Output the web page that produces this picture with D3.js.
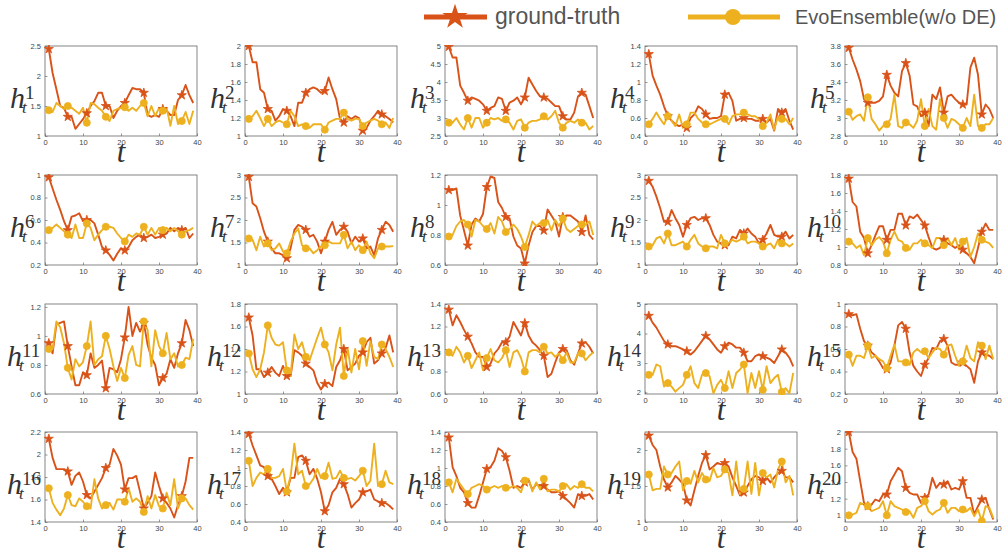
<!DOCTYPE html>
<html><head><meta charset="utf-8">
<script src="https://cdn.jsdelivr.net/npm/d3@7"></script>
<style>body{margin:0;background:#fff}</style>
</head><body>
<svg id="chart" width="1002" height="554"></svg>
<script>
const tSteps = [1,2,3,4,5,6,7,8,9,10,11,12,13,14,15,16,17,18,19,20,21,22,23,24,25,26,27,28,29,30,31,32,33,34,35,36,37,38,39];
const xTicks = [0,10,20,30,40];
const seriesNames = ["ground-truth","EvoEnsemble(w/o DE)"];
const panelIndex = [1,2,3,4,5,6,7,8,9,10,11,12,13,14,15,16,17,18,19,20];
const yDomains = [[1,2.5],[1,2],[2.5,5],[0.4,1.4],[2.8,3.8],[0.2,1],[1,3],[0.6,1.2],[1,3],[0.8,1.8],
  [0.6,1.22],[1,1.8],[0.6,1.4],[1.95,5],[0.2,1],[1.4,2.2],[0.4,1.4],[0.4,1.4],[1,2.25],[0.92,2]];
const yTicks = [[1,1.5,2,2.5],[1,1.2,1.4,1.6,1.8,2],[2.5,3,3.5,4,4.5,5],[0.4,0.6,0.8,1,1.2,1.4],[2.8,3,3.2,3.4,3.6,3.8],
  [0.2,0.4,0.6,0.8,1],[1,1.5,2,2.5,3],[0.6,0.8,1,1.2],[1,1.5,2,2.5,3],[0.8,1,1.2,1.4,1.6,1.8],
  [0.6,0.8,1,1.2],[1,1.2,1.4,1.6,1.8],[0.6,0.8,1,1.2,1.4],[2,3,4,5],[0.2,0.4,0.6,0.8,1],
  [1.4,1.6,1.8,2,2.2],[0.4,0.6,0.8,1,1.2,1.4],[0.4,0.6,0.8,1,1.2,1.4],[1,1.5,2],[1,1.2,1.4,1.6,1.8,2]];

const groundTruth = [
 [2.45,2.05,1.78,1.5,1.47,1.32,1.32,1.12,1.2,1.28,1.38,1.5,1.58,1.72,1.72,1.5,1.5,1.3,1.42,1.5,1.55,1.68,1.8,1.78,1.78,1.72,1.35,1.32,1.35,1.32,1.45,1.42,1.35,1.35,1.6,1.68,1.85,1.68,1.55],
 [2.0,1.82,1.82,1.52,1.48,1.3,1.28,1.17,1.22,1.3,1.28,1.22,1.11,1.37,1.37,1.48,1.52,1.54,1.52,1.48,1.5,1.65,1.52,1.41,1.19,1.15,1.22,1.19,1.22,1.2,1.06,1.09,1.17,1.22,1.28,1.24,1.22,1.19,1.15],
 [4.98,4.68,4.68,3.9,3.7,3.48,3.57,3.53,3.48,3.38,3.2,3.28,3.33,3.57,3.53,3.2,3.43,3.48,3.57,3.38,3.57,4.12,3.93,3.75,3.6,3.57,3.53,3.43,3.33,3.33,3.05,2.96,2.96,3.15,3.6,3.7,3.65,3.33,3.0],
 [1.31,1.07,0.96,0.86,0.73,0.62,0.57,0.53,0.51,0.53,0.49,0.6,0.64,0.73,0.7,0.64,0.59,0.6,0.6,0.62,0.86,0.88,0.79,0.57,0.59,0.6,0.59,0.59,0.57,0.57,0.59,0.55,0.59,0.46,0.7,0.66,0.7,0.57,0.47],
 [3.78,3.65,3.54,3.41,3.21,3.17,3.17,3.17,3.19,3.24,3.48,3.36,3.28,3.24,3.52,3.61,3.47,3.15,3.13,3.02,3.06,2.91,3.26,3.21,3.34,3.06,3.24,3.26,3.21,3.17,3.15,3.15,3.56,3.67,3.48,3.04,3.15,3.1,3.0],
 [0.98,0.88,0.78,0.69,0.59,0.51,0.63,0.64,0.66,0.59,0.6,0.6,0.57,0.47,0.36,0.33,0.29,0.24,0.3,0.35,0.33,0.36,0.42,0.45,0.47,0.44,0.45,0.47,0.44,0.45,0.47,0.48,0.53,0.5,0.53,0.51,0.53,0.44,0.48],
 [2.96,2.37,2.3,2.04,1.74,1.52,1.37,1.26,1.26,1.22,1.15,1.37,1.78,1.89,1.85,1.78,1.63,1.67,1.52,1.26,1.52,1.78,1.96,1.67,1.78,1.85,1.74,1.48,1.63,1.52,1.59,1.37,1.41,1.22,1.59,1.78,1.96,1.89,1.74],
 [1.1,1.1,1.11,0.93,0.83,0.73,0.87,0.91,0.89,0.94,1.12,1.19,1.18,1.02,0.98,0.92,0.91,0.79,0.73,0.71,0.61,0.73,0.82,0.86,0.86,0.83,0.97,0.93,0.89,0.79,0.92,0.93,0.93,0.91,0.89,0.82,0.93,0.8,0.77],
 [2.87,2.74,2.52,2.26,1.96,1.96,2.22,2.04,1.89,1.63,1.89,2.04,2.07,2.0,2.04,2.04,1.89,1.67,1.52,1.48,1.44,1.44,1.63,1.59,1.78,1.7,1.81,1.7,1.63,1.48,1.56,1.7,1.89,1.67,1.63,1.63,1.74,1.59,1.67],
 [1.76,1.5,1.45,1.17,1.1,0.93,1.02,1.13,1.23,1.23,1.08,1.19,1.19,1.37,1.37,1.24,1.34,1.32,1.36,1.3,1.24,1.11,0.99,0.97,0.99,1.08,1.04,1.02,0.99,1.02,0.97,0.93,0.89,0.82,0.99,1.17,1.26,1.19,1.19],
 [0.95,0.88,1.08,1.09,1.1,0.93,0.79,0.66,0.66,0.75,0.73,0.88,0.78,0.8,0.83,0.64,0.78,0.77,0.75,0.84,0.99,1.2,1.0,1.09,1.03,1.09,0.94,0.85,0.8,0.66,0.71,0.74,0.84,0.78,0.88,0.95,1.11,1.04,0.93],
 [1.68,1.52,1.22,1.22,1.15,1.19,1.24,1.19,1.16,1.25,1.16,1.16,1.39,1.37,1.34,1.27,1.24,1.21,1.1,1.04,1.09,1.1,1.07,1.24,1.3,1.4,1.21,1.24,1.27,1.34,1.37,1.46,1.5,1.27,1.3,1.36,1.41,1.52,1.37],
 [1.35,1.21,1.3,1.24,1.17,1.11,1.05,0.97,0.93,0.93,0.84,0.87,0.96,1.0,1.06,1.06,1.11,1.24,1.18,1.12,1.23,1.12,1.06,1.03,0.99,0.94,0.75,0.78,0.88,0.97,1.0,0.99,0.9,0.86,0.96,1.05,1.06,1.02,0.96],
 [4.6,4.37,4.2,3.97,3.75,3.63,3.57,3.57,3.52,3.46,3.4,3.29,3.4,3.57,3.75,3.92,3.8,3.63,3.46,3.35,3.57,3.69,3.63,3.52,3.52,3.35,3.06,3.06,3.23,3.29,3.23,3.18,3.12,3.0,3.23,3.46,3.35,3.18,2.89],
 [0.91,0.9,0.91,0.78,0.67,0.63,0.57,0.54,0.49,0.43,0.42,0.48,0.63,0.81,0.84,0.78,0.57,0.45,0.4,0.36,0.46,0.52,0.61,0.6,0.67,0.69,0.63,0.48,0.46,0.46,0.48,0.45,0.42,0.3,0.49,0.57,0.55,0.54,0.51],
 [2.14,1.97,1.87,1.87,1.87,1.85,1.73,1.81,1.84,1.76,1.64,1.61,1.67,1.73,1.79,1.88,1.91,2.05,1.99,1.91,1.69,1.79,1.79,1.81,1.67,1.52,1.57,1.63,1.84,1.72,1.61,1.57,1.52,1.44,1.55,1.63,1.76,1.97,1.97],
 [1.38,1.25,1.14,1.03,1.01,0.91,0.88,0.8,0.71,0.78,0.73,0.89,0.89,1.12,1.14,1.08,0.93,0.99,0.88,0.73,0.52,0.59,0.73,0.78,0.88,0.82,0.71,0.56,0.61,0.65,0.73,0.74,0.76,0.65,0.63,0.61,0.61,0.58,0.54],
 [1.34,1.01,0.91,0.78,0.73,0.61,0.56,0.56,0.69,0.84,0.99,1.01,1.08,1.22,1.19,1.12,0.97,0.78,0.8,0.78,0.84,0.86,0.76,0.82,0.8,0.8,0.76,0.73,0.73,0.74,0.69,0.65,0.61,0.56,0.71,0.69,0.69,0.71,0.65],
 [2.2,2.07,2.0,1.77,1.59,1.48,1.55,1.64,1.59,1.53,1.3,1.23,1.44,1.64,1.82,1.93,1.73,1.77,1.82,1.8,1.82,1.77,1.62,1.5,1.37,1.41,1.5,1.59,1.64,1.62,1.57,1.62,1.55,1.62,1.68,1.71,1.62,1.62,1.55],
 [2.0,1.76,1.68,1.41,1.15,1.11,1.13,1.19,1.17,1.25,1.25,1.41,1.49,1.57,1.53,1.33,1.27,1.25,1.25,1.15,1.21,1.25,1.45,1.33,1.39,1.37,1.41,1.31,1.33,1.31,1.41,1.21,1.21,1.01,1.11,1.19,1.21,1.07,0.95]
];

const evoEnsemble = [
 [1.43,1.4,1.55,1.5,1.45,1.5,1.47,1.42,1.37,1.47,1.22,1.55,1.53,1.47,1.42,1.32,1.25,1.42,1.45,1.47,1.48,1.42,1.47,1.42,1.5,1.55,1.33,1.5,1.33,1.47,1.42,1.47,1.17,1.5,1.2,1.25,1.4,1.2,1.42],
 [1.19,1.22,1.28,1.2,1.11,1.19,1.11,1.15,1.17,1.15,1.13,1.28,1.22,1.11,1.13,1.11,1.09,1.13,1.13,1.13,1.07,1.15,1.17,1.19,1.19,1.26,1.19,1.17,1.19,1.19,1.11,1.15,1.17,1.19,1.17,1.13,1.15,1.09,1.2],
 [2.87,2.87,3.0,2.82,2.68,3.0,2.73,3.0,3.0,2.73,2.87,3.0,2.96,3.0,2.92,2.96,2.87,2.68,2.92,2.96,2.73,2.87,2.92,2.92,2.96,3.05,2.96,3.05,3.2,2.87,2.73,2.87,2.92,2.87,2.96,2.87,2.87,2.68,2.78],
 [0.53,0.59,0.66,0.59,0.53,0.62,0.57,0.51,0.64,0.49,0.53,0.66,0.66,0.59,0.55,0.53,0.53,0.55,0.57,0.59,0.59,0.53,0.62,0.64,0.64,0.66,0.64,0.62,0.62,0.59,0.51,0.55,0.64,0.47,0.62,0.59,0.59,0.53,0.6],
 [3.07,2.98,3.02,3.04,2.97,3.23,2.99,2.93,2.86,2.91,2.93,2.99,3.26,2.91,2.89,2.95,2.93,2.89,2.97,3.21,2.91,3.1,2.91,2.87,3.21,3.0,2.89,2.99,2.97,2.93,2.89,3.0,2.91,3.26,2.91,2.89,2.93,2.93,3.0],
 [0.51,0.53,0.56,0.53,0.5,0.47,0.44,0.56,0.44,0.44,0.57,0.53,0.42,0.47,0.51,0.54,0.54,0.53,0.48,0.44,0.41,0.47,0.45,0.48,0.47,0.54,0.47,0.53,0.47,0.53,0.51,0.53,0.5,0.53,0.5,0.47,0.5,0.51,0.53],
 [1.59,1.56,1.33,1.63,1.41,1.48,1.33,1.37,1.48,1.3,1.26,1.52,1.7,1.81,1.44,1.37,1.37,1.26,1.33,1.41,1.44,1.52,1.48,1.48,1.48,1.67,1.37,1.52,1.33,1.44,1.33,1.52,1.26,1.15,1.37,1.41,1.41,1.41,1.42],
 [0.79,0.8,0.86,0.89,0.9,0.87,0.79,0.9,0.89,0.86,0.84,0.88,0.81,0.92,0.89,0.82,0.84,0.87,0.84,0.79,0.72,0.8,0.89,0.86,0.88,0.88,0.9,0.83,0.9,0.86,0.91,0.84,0.82,0.84,0.86,0.87,0.87,0.89,0.8],
 [1.41,1.44,1.59,1.63,1.48,1.7,1.44,1.44,1.48,1.52,1.41,1.56,1.67,1.48,1.41,1.37,1.41,1.41,1.37,1.67,1.48,1.48,1.56,1.52,1.56,1.63,1.48,1.52,1.52,1.48,1.41,1.44,1.48,1.37,1.56,1.48,1.48,1.41,1.48],
 [1.06,1.04,0.99,1.02,0.91,1.1,1.02,1.08,1.11,1.06,0.93,1.08,1.17,1.08,1.06,0.99,0.97,1.04,1.04,1.08,1.04,1.02,0.99,1.1,1.1,1.02,1.1,1.02,1.1,0.97,1.06,1.1,0.89,1.0,1.15,1.08,1.06,1.04,0.99],
 [0.91,0.91,1.1,1.06,0.95,0.78,0.7,0.84,0.79,0.82,0.93,1.1,0.8,0.84,0.86,1.0,0.91,0.79,0.69,0.78,0.71,0.87,0.93,0.8,0.79,1.1,1.04,0.79,1.04,0.93,0.88,1.02,0.84,0.88,0.79,0.8,0.85,0.84,0.98],
 [1.36,1.22,1.15,1.22,1.37,1.61,1.5,1.44,1.43,1.46,1.21,1.16,1.53,1.4,1.46,1.33,1.3,1.4,1.5,1.59,1.44,1.37,1.21,1.44,1.59,1.16,1.41,1.19,1.4,1.22,1.47,1.25,1.47,1.33,1.31,1.44,1.4,1.33,1.24],
 [0.97,0.94,1.02,0.97,0.88,0.94,0.83,0.9,0.97,0.81,0.92,1.0,0.9,0.88,0.92,0.99,0.84,0.97,0.99,0.92,0.8,0.97,0.99,0.99,0.97,1.02,0.96,0.97,0.93,0.96,0.9,0.97,0.88,0.88,0.96,0.96,0.9,0.94,0.97],
 [2.6,2.6,2.95,2.89,2.2,2.32,2.2,2.03,2.15,2.26,2.6,2.89,2.32,2.15,2.6,2.66,2.55,1.97,2.26,2.43,2.15,2.72,2.15,2.66,2.78,2.95,1.97,2.66,2.15,2.72,2.09,2.89,2.32,2.49,2.6,2.02,2.15,1.97,2.66],
 [0.55,0.45,0.54,0.54,0.52,0.63,0.52,0.54,0.51,0.49,0.43,0.54,0.64,0.49,0.49,0.48,0.46,0.57,0.6,0.57,0.58,0.52,0.57,0.61,0.6,0.55,0.63,0.64,0.54,0.45,0.49,0.63,0.52,0.49,0.66,0.63,0.51,0.63,0.51],
 [1.7,1.57,1.51,1.46,1.52,1.64,1.55,1.54,1.61,1.58,1.54,1.52,1.78,1.61,1.52,1.55,1.57,1.51,1.6,1.6,1.58,1.7,1.58,1.61,1.58,1.49,1.63,1.52,1.64,1.54,1.52,1.66,1.55,1.78,1.52,1.61,1.61,1.55,1.51],
 [1.08,0.8,0.89,0.95,0.93,0.99,0.89,0.89,0.91,0.99,0.74,0.91,1.27,0.93,0.97,0.8,0.82,0.88,0.99,0.89,0.91,1.06,0.88,0.89,0.97,0.89,0.88,0.89,0.86,0.91,0.97,0.8,0.86,1.27,0.8,0.82,0.97,0.84,0.82],
 [0.84,0.73,0.88,0.82,0.76,0.71,0.78,0.8,0.82,0.8,0.76,0.78,0.8,0.78,0.8,0.78,0.78,0.8,0.78,0.73,0.86,0.88,0.74,0.84,0.76,0.88,0.74,0.76,0.76,0.74,0.8,0.82,0.76,0.8,0.78,0.82,0.78,0.78,0.74],
 [1.66,1.44,1.46,1.46,1.77,1.66,1.68,1.77,1.84,1.44,1.57,1.53,1.71,1.55,1.68,1.59,1.57,1.75,1.62,1.64,1.73,1.68,1.37,1.84,1.39,1.46,1.84,1.39,1.82,1.37,1.68,1.62,1.66,1.48,1.73,1.84,1.55,1.64,1.37],
 [1.0,1.01,1.03,1.15,1.13,1.11,1.05,1.07,1.09,1.17,1.0,1.17,1.11,1.09,1.07,1.04,1.05,0.97,1.09,1.11,1.17,1.05,1.01,1.05,1.07,1.15,1.03,1.09,1.09,1.05,1.07,1.05,1.09,0.99,1.07,0.93,1.11,1.09,0.97]
];

const colors = ["#D95319", "#EDB120"];
const colLeft = [45, 245, 445, 645, 845];
const rowTop = [46, 175, 304, 432];
const pw = 152, ph = 90;

const svg = d3.select("#chart");
svg.append("rect").attr("width",1002).attr("height",554).attr("fill","#fff");

const markerSteps = [1,6,11,16,21,26,31,36];

panelIndex.forEach((k, i) => {
  const col = i % 5, row = Math.floor(i / 5);
  const x0 = colLeft[col], y0 = rowTop[row];
  const g = svg.append("g").attr("transform", `translate(${x0},${y0})`);
  const x = d3.scaleLinear().domain([0,40]).range([0,pw]);
  const y = d3.scaleLinear().domain(yDomains[i]).range([ph,0]);

  const xAxis = d3.axisBottom(x).tickValues(xTicks).tickSize(-2.5).tickPadding(4).tickFormat(d3.format("d"));
  const yAxis = d3.axisLeft(y).tickValues(yTicks[i]).tickSize(-2.5).tickPadding(4).tickFormat(d => String(+d.toFixed(2)));
  const gx = g.append("g").attr("transform", `translate(0,${ph})`).call(xAxis);
  const gy = g.append("g").call(yAxis);
  [gx, gy].forEach(a => {
    a.select(".domain").remove();
    a.selectAll("line").attr("stroke","#555").attr("stroke-width",0.6);
    a.selectAll("text").attr("fill","#444").attr("font-family","Liberation Sans, Arial, sans-serif").attr("font-size","7.5px");
  });
  g.append("rect").attr("x",0).attr("y",0).attr("width",pw).attr("height",ph)
    .attr("fill","none").attr("stroke","#666").attr("stroke-width",0.8);

  const clip = "clip" + k;
  g.append("clipPath").attr("id", clip).append("rect").attr("x",-1).attr("y",-1).attr("width",pw+2).attr("height",ph+2);
  const plot = g.append("g").attr("clip-path", `url(#${clip})`);

  const seriesList = [groundTruth[i], evoEnsemble[i]];
  [0,1].forEach(s => {
    const vals = seriesList[s];
    const line = d3.line().x((d,j) => x(tSteps[j])).y(d => y(d));
    plot.append("path").datum(vals).attr("d", line).attr("fill","none")
      .attr("stroke", colors[s]).attr("stroke-width", 1.9).attr("stroke-linejoin","round");
  });
  [0,1].forEach(s => {
    const vals = seriesList[s];
    const sym = s === 0 ? d3.symbol().type(d3.symbolStar).size(26) : d3.symbol().type(d3.symbolCircle).size(40);
    plot.selectAll(null).data(markerSteps).enter().append("path")
      .attr("d", sym())
      .attr("transform", t => `translate(${x(t)},${y(vals[t-1])})`)
      .attr("fill", colors[s]).attr("stroke", colors[s]).attr("stroke-width", 0.8);
  });

  // y label h_t^k
  const two = k >= 10;
  const hx = -35 - (two ? 3 : 0);
  const lab = g.append("g").attr("font-family","Liberation Serif, Times New Roman, serif").attr("fill","#333");
  lab.append("text").attr("x", hx).attr("y", 62).attr("font-size","30px").attr("font-style","italic").text("h");
  lab.append("text").attr("x", hx + 15).attr("y", 53).attr("font-size","19px").text(String(k));
  lab.append("text").attr("x", hx + 12).attr("y", 67).attr("font-size","17px").attr("font-style","italic").text("t");
  // x label t
  g.append("text").attr("x", pw/2).attr("y", ph + 26).attr("text-anchor","middle")
    .attr("font-family","Liberation Serif, Times New Roman, serif").attr("font-style","italic")
    .attr("font-size","31px").attr("fill","#333").text("t");
});

// legend
const leg = svg.append("g");
const legItems = [{x1:424, x2:487, mx:455, tx:495, fs:23}, {x1:688, x2:780, mx:733, tx:795, fs:20}];
legItems.forEach((L, s) => {
  leg.append("line").attr("x1",L.x1).attr("x2",L.x2).attr("y1",17).attr("y2",17)
    .attr("stroke",colors[s]).attr("stroke-width",5);
  const sym = s === 0 ? d3.symbol().type(d3.symbolStar).size(200) : d3.symbol().type(d3.symbolCircle).size(200);
  leg.append("path").attr("d", sym()).attr("transform",`translate(${L.mx},17)`).attr("fill",colors[s]);
  leg.append("text").attr("x",L.tx).attr("y",24).attr("font-family","Liberation Sans, Arial, sans-serif")
    .attr("font-size",L.fs + "px").attr("fill","#555").text(seriesNames[s]);
});
</script>
</body></html>
